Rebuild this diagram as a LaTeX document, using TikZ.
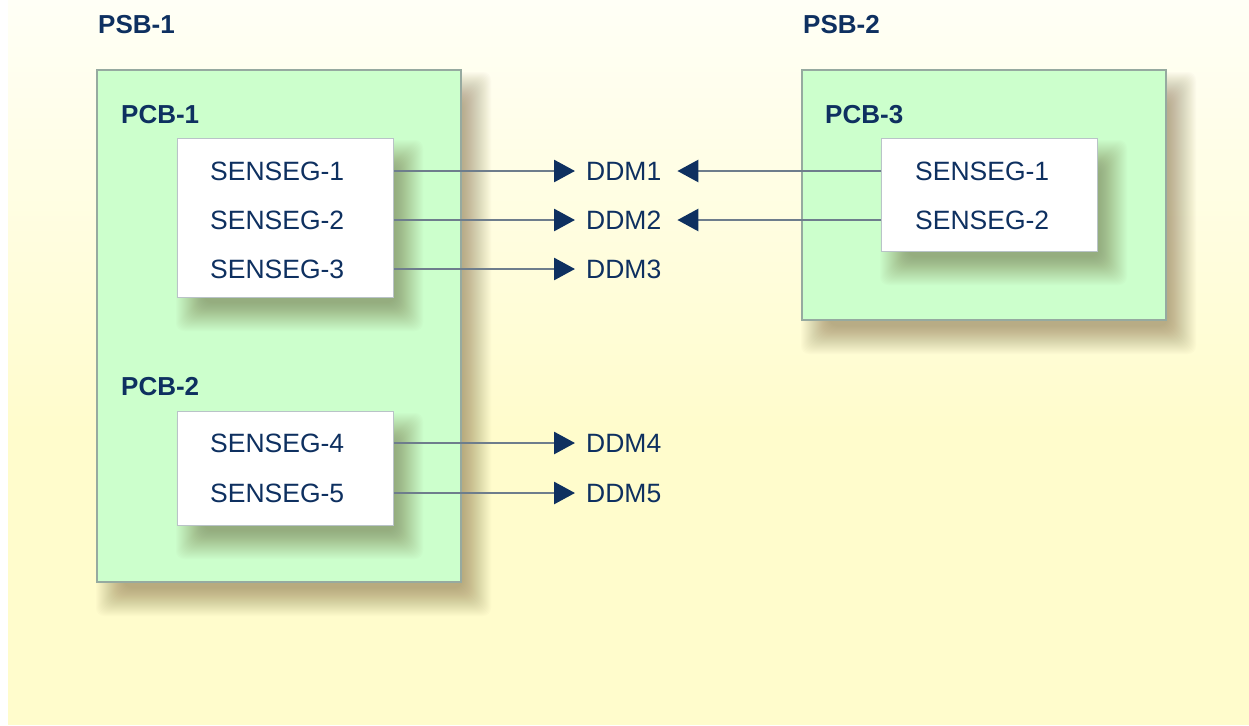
\documentclass[tikz,border=0pt]{standalone}
\usepackage{fontspec}
\setmainfont{Liberation Sans}
\usetikzlibrary{arrows.meta}
\definecolor{navy}{RGB}{14,48,96}
\definecolor{boxgreen}{RGB}{204,255,204}
\definecolor{greenedge}{RGB}{150,170,160}
\definecolor{whiteedge}{RGB}{185,195,200}
\definecolor{linegray}{RGB}{110,125,140}
\definecolor{bgtop}{RGB}{255,255,246}
\definecolor{bgbot}{RGB}{255,252,204}
\definecolor{shadowcol}{RGB}{90,60,20}
\newcommand\mysoftshadow[4]{%
  \foreach \k in {-12,-11,...,16}{%
    \fill[shadowcol,opacity=0.016,rounded corners=8pt]
      ({#1+15-\k},{#2+18-\k}) rectangle ({#3+14+\k},{#4+18+\k});
  }%
}
\tikzset{
  psbbox/.style={draw=greenedge, line width=1.2pt, fill=boxgreen},
  segbox/.style={draw=whiteedge, line width=1pt, fill=white},
  txt/.style={text=navy, inner sep=0pt, text height=18.5pt, text depth=0pt,
    font=\fontsize{26.5}{30}\selectfont},
  btxt/.style={txt, font=\fontsize{26}{30}\selectfont\bfseries},
  ddm/.style={txt, text width=80pt, align=left, inner xsep=10pt, inner ysep=0pt},
  arr/.style={draw=linegray, line width=2.8pt,
    -{Triangle[length=21pt,width=22pt,fill=navy,color=navy]}, shorten >=1pt},
}
\begin{document}
\begin{tikzpicture}[x=1pt,y=-1pt]
\useasboundingbox (0,0) rectangle (1249,725);
% background
\fill[bgbot] (8,430) rectangle (1249,725);
\shade[top color=bgtop, bottom color=bgbot] (8,0) rectangle (1249,431);

% PSB-1
\node[btxt, anchor=west] (psb1) at (98,24) {PSB-1};
\mysoftshadow{97}{70}{461}{582}
\path[psbbox] (97,70) rectangle (461,582);
\node[btxt, anchor=west] (pcb1) at (121,114) {PCB-1};
\mysoftshadow{177}{138}{393}{297}
\node[segbox, minimum width=216pt, minimum height=159pt, anchor=north west] (b1) at (177,138) {};
\node[txt, anchor=west] (s1) at (210,171) {SENSEG-1};
\node[txt, anchor=west] (s2) at (210,220) {SENSEG-2};
\node[txt, anchor=west] (s3) at (210,269) {SENSEG-3};
\node[btxt, anchor=west] (pcb2) at (121,386) {PCB-2};
\mysoftshadow{177}{411}{393}{525}
\node[segbox, minimum width=216pt, minimum height=114pt, anchor=north west] (b2) at (177,411) {};
\node[txt, anchor=west] (s4) at (210,443) {SENSEG-4};
\node[txt, anchor=west] (s5) at (210,493) {SENSEG-5};

% PSB-2
\node[btxt, anchor=west] (psb2) at (803,24) {PSB-2};
\mysoftshadow{802}{70}{1166}{320}
\path[psbbox] (802,70) rectangle (1166,320);
\node[btxt, anchor=west] (pcb3) at (825,114) {PCB-3};
\mysoftshadow{881}{138}{1097}{251}
\node[segbox, minimum width=216pt, minimum height=113pt, anchor=north west] (b3) at (881,138) {};
\node[txt, anchor=west] (t1) at (915,171) {SENSEG-1};
\node[txt, anchor=west] (t2) at (915,220) {SENSEG-2};

% DDMs
\node[ddm, anchor=west] (d1) at (576,171) {DDM1};
\node[ddm, anchor=west] (d2) at (576,220) {DDM2};
\node[ddm, anchor=west] (d3) at (576,269) {DDM3};
\node[ddm, anchor=west] (d4) at (576,443) {DDM4};
\node[ddm, anchor=west] (d5) at (576,493) {DDM5};

% connectors
\draw[arr] (b1.east |- d1.west) -- (d1.west);
\draw[arr] (b1.east |- d2.west) -- (d2.west);
\draw[arr] (b1.east |- d3.west) -- (d3.west);
\draw[arr] (b2.east |- d4.west) -- (d4.west);
\draw[arr] (b2.east |- d5.west) -- (d5.west);
\draw[arr] (b3.west |- d1.east) -- (d1.east);
\draw[arr] (b3.west |- d2.east) -- (d2.east);
\end{tikzpicture}
\end{document}
